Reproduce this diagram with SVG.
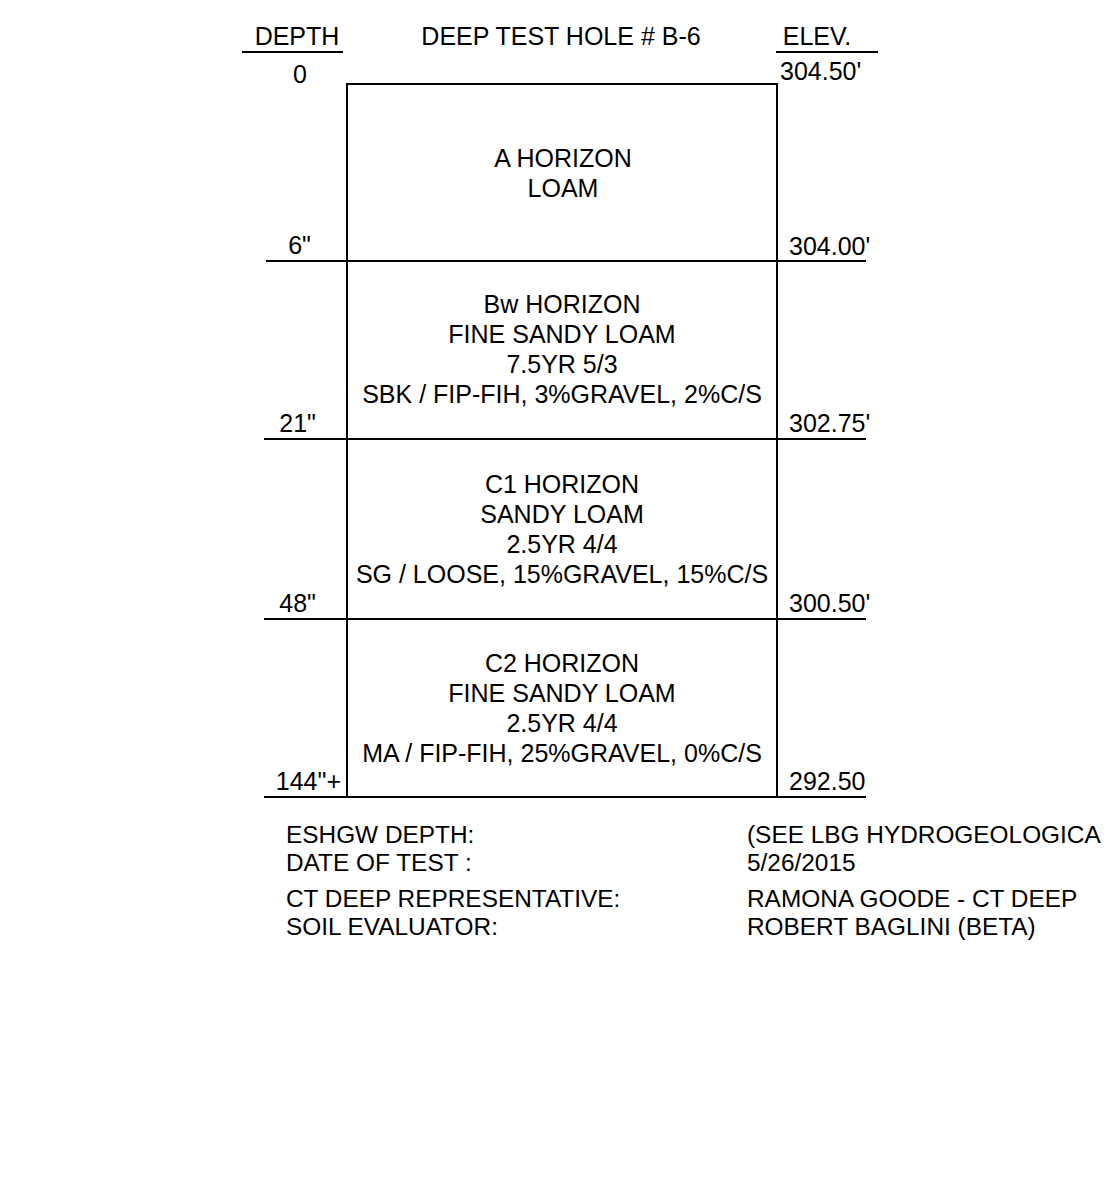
<svg xmlns="http://www.w3.org/2000/svg" width="1106" height="1200" viewBox="0 0 1106 1200">
<style>
text{font-family:"Liberation Sans",Arial,sans-serif;font-size:25px;fill:#000}
.c{text-anchor:middle}
.r{text-anchor:end}
.n{font-size:24.4px}
line{stroke:#000;stroke-width:2}
</style>
<rect width="1106" height="1200" fill="#fff"/>
<g id="header">
<text x="297" y="45" class="c">DEPTH</text>
<line x1="242" y1="52" x2="343" y2="52"/>
<text x="561" y="45" class="c">DEEP TEST HOLE # B-6</text>
<text x="817" y="45" class="c">ELEV.</text>
<line x1="776" y1="52" x2="878" y2="52"/>
<text x="300" y="83" class="c">0</text>
<text x="780" y="80">304.50'</text>
</g>
<g id="connectors">
<line x1="347" y1="84" x2="777" y2="84"/>
<line x1="347" y1="83" x2="347" y2="798"/>
<line x1="777" y1="83" x2="777" y2="798"/>
<line x1="266" y1="261" x2="866" y2="261"/>
<line x1="264" y1="439" x2="866" y2="439"/>
<line x1="264" y1="619" x2="866" y2="619"/>
<line x1="264" y1="797" x2="866" y2="797"/>
</g>
<g id="layer-a">
<text x="563" y="167" class="c">A HORIZON</text>
<text x="563" y="197" class="c">LOAM</text>
<text x="311" y="254" class="r">6"</text>
<text x="789" y="255">304.00'</text>
</g>
<g id="layer-bw">
<text x="562" y="313" class="c">Bw HORIZON</text>
<text x="562" y="343" class="c">FINE SANDY LOAM</text>
<text x="562" y="373" class="c">7.5YR 5/3</text>
<text x="562" y="403" class="c">SBK / FIP-FIH, 3%GRAVEL, 2%C/S</text>
<text x="316" y="432" class="r">21"</text>
<text x="789" y="432">302.75'</text>
</g>
<g id="layer-c1">
<text x="562" y="493" class="c">C1 HORIZON</text>
<text x="562" y="523" class="c">SANDY LOAM</text>
<text x="562" y="553" class="c">2.5YR 4/4</text>
<text x="562" y="583" class="c">SG / LOOSE, 15%GRAVEL, 15%C/S</text>
<text x="316" y="612" class="r">48"</text>
<text x="789" y="612">300.50'</text>
</g>
<g id="layer-c2">
<text x="562" y="672" class="c">C2 HORIZON</text>
<text x="562" y="702" class="c">FINE SANDY LOAM</text>
<text x="562" y="732" class="c">2.5YR 4/4</text>
<text x="562" y="762" class="c">MA / FIP-FIH, 25%GRAVEL, 0%C/S</text>
<text x="341" y="790" class="r">144"+</text>
<text x="789" y="790">292.50</text>
</g>
<g id="notes">
<text x="286" y="843" class="n">ESHGW DEPTH:</text>
<text x="286" y="871" class="n">DATE OF TEST :</text>
<text x="286" y="907" class="n">CT DEEP REPRESENTATIVE:</text>
<text x="286" y="935" class="n">SOIL EVALUATOR:</text>
<text x="747" y="843" class="n">(SEE LBG HYDROGEOLOGICA</text>
<text x="747" y="871" class="n">5/26/2015</text>
<text x="747" y="907" class="n">RAMONA GOODE - CT DEEP</text>
<text x="747" y="935" class="n">ROBERT BAGLINI (BETA)</text>
</g>
</svg>
